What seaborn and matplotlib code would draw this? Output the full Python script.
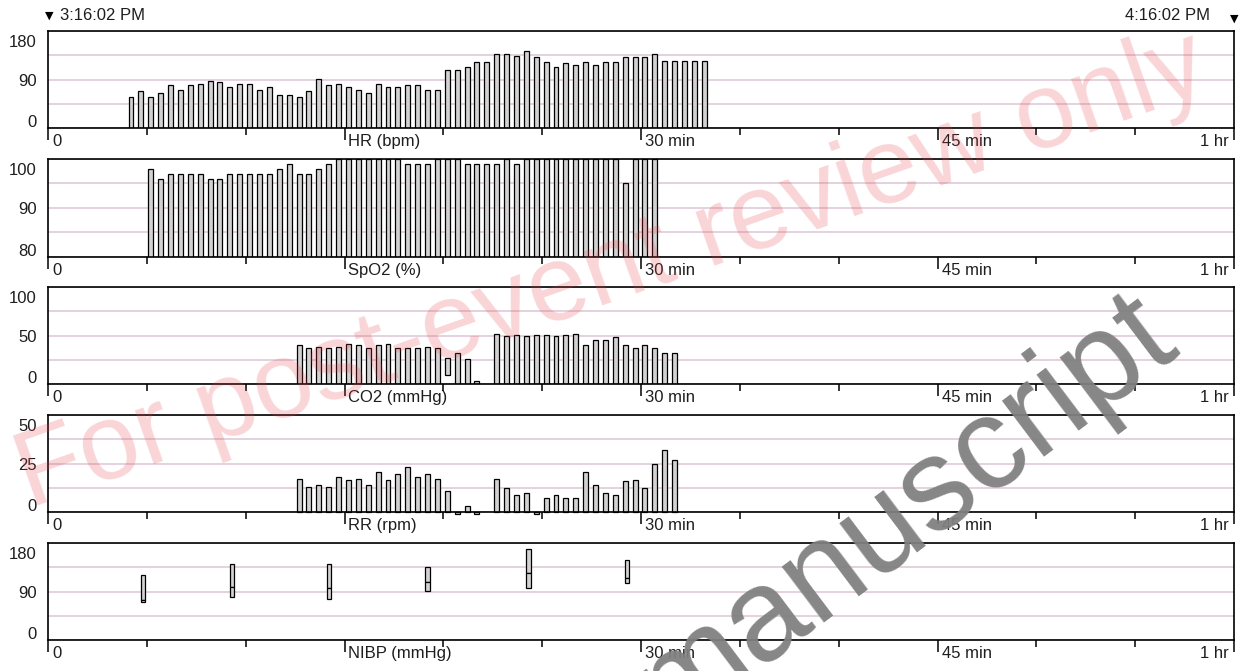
import numpy as np
import pandas as pd
import seaborn as sns
import matplotlib
matplotlib.use("Agg")
import matplotlib.pyplot as plt
from matplotlib import transforms

sns.set_theme(style="white")
plt.rcParams["font.family"] = ["Liberation Sans", "DejaVu Sans"]

START_LABEL = "3:16:02 PM"
END_LABEL = "4:16:02 PM"
X_MAJOR = [0, 15, 30, 45, 60]
X_MINOR = [5, 10, 20, 25, 35, 40, 50, 55]

# trend samples every 30 s, start given in minutes from 3:16:02 PM
HR_START = 4.2
HR = [57, 69, 57, 65, 79, 70, 79, 82, 88, 86,
      77, 82, 82, 71, 77, 62, 62, 57, 69, 91,
      80, 82, 77, 70, 65, 82, 77, 77, 80, 80,
      70, 70, 108, 108, 114, 122, 122, 137, 137, 134,
      142, 131, 122, 114, 120, 117, 122, 117, 122, 122,
      131, 131, 131, 137, 125, 125, 125, 125, 125]

SPO2_START = 5.2
SPO2 = [98, 96, 97, 97, 97, 97, 96, 96, 97, 97,
        97, 97, 97, 98, 99, 97, 97, 98, 99, 100,
        100, 100, 100, 100, 100, 100, 99, 99, 99, 100,
        100, 100, 99, 99, 99, 99, 100, 99, 100, 100,
        100, 100, 100, 100, 100, 100, 100, 100, 95, 100,
        100, 100]

CO2_START = 12.7
CO2 = [40, 37, 38, 37, 38, 41, 40, 37, 40, 41,
       37, 37, 37, 38, 37, 27, 32, 26, 3, np.nan,
       52, 49, 51, 49, 51, 51, 49, 51, 52, 40,
       45, 45, 48, 40, 37, 40, 37, 32, 32]
CO2_FLOOR = [0, 0, 0, 0, 0, 0, 0, 0, 0, 0,
             0, 0, 0, 0, 0, 9, 0, 0, 0, 0,
             0, 0, 0, 0, 0, 0, 0, 0, 0, 0,
             0, 0, 0, 0, 0, 0, 0, 0, 0]

RR_START = 12.7
RR = [17, 13, 14, 13, 18, 16.5, 17, 14, 20.5, 16.5,
      19.5, 23, 18, 19.5, 17, 11, -1, 3, -1, np.nan,
      17, 12.5, 9, 10, -1, 7, 9, 7, 7, 20.5,
      14, 10, 9, 16, 16.5, 12.5, 24.5, 32, 27]

NIBP_T = [4.8, 9.3, 14.2, 19.2, 24.3, 29.3]
NIBP_SYS = [121, 141, 141, 135, 169, 148]
NIBP_MAP = [75, 98, 96, 107, 124, 115]
NIBP_DIA = [70, 80, 76, 91, 97, 106]

FILL = "#d2d2d2"
GRID = "#dcc6d4"
TEXT = "#1e1e1e"

W, H = 1248, 671
fig = plt.figure(figsize=(W / 100, H / 100), dpi=100)

# panel frames in pixels: (top, bottom)
frames = [(31, 128), (159, 257), (287, 384), (415, 512), (543, 640)]
left, right = 48, 1234
axes = [fig.add_axes([left / W, 1 - b / H, (right - left) / W, (b - t) / H]) for t, b in frames]


def trend_frame(start, values):
    return pd.DataFrame({"t": start + 0.5 * np.arange(len(values)), "v": values})


def bars(ax, df):
    sns.barplot(data=df.dropna(), x="t", y="v", native_scale=True, width=0.5,
                color=FILL, saturation=1, edgecolor="black", linewidth=0.9,
                errorbar=None, ax=ax)


def style(ax, lo, hi, ylabels, name):
    ax.set_xlim(0, 60)
    ax.set_ylim(lo, hi)
    ax.set_xlabel("")
    ax.set_ylabel("")
    ax.set_axisbelow(True)
    grid = np.linspace(lo, hi, 5)
    ax.set_yticks(grid[1:4], minor=True)
    ax.set_yticks([lo, grid[2], hi], labels=ylabels)
    ax.yaxis.grid(True, which="both", color=GRID, lw=1.1)
    ax.xaxis.grid(False)
    ax.tick_params(axis="y", which="both", length=0, pad=8, labelsize=12, labelcolor=TEXT)
    ax.set_xticks(X_MAJOR, labels=["0", name, "30 min", "45 min", "1 hr"])
    ax.set_xticks(X_MINOR, minor=True)
    ax.tick_params(axis="x", which="major", direction="out", length=8.6, width=1.1,
                   color="black", pad=-4.3, labelsize=12, labelcolor=TEXT, bottom=True)
    ax.tick_params(axis="x", which="minor", direction="out", length=5, width=1.1,
                   color="black", bottom=True)
    for sp in ax.spines.values():
        sp.set_color("black")
        sp.set_linewidth(1.2)
    # y labels: top pushed inside, bottom lifted to sit on the baseline
    ylab = ax.get_yticklabels()
    ylab[0].set_va("baseline")
    ylab[0].set_transform(ylab[0].get_transform() +
                          transforms.ScaledTranslation(0, 0.01, fig.dpi_scale_trans))
    ylab[2].set_transform(ylab[2].get_transform() +
                          transforms.ScaledTranslation(0, -0.10, fig.dpi_scale_trans))
    xlab = ax.get_xticklabels()
    for i, lab in enumerate(xlab):
        if i < len(xlab) - 1:
            lab.set_ha("left")
            lab.set_transform(lab.get_transform() +
                              transforms.ScaledTranslation(0.04, 0, fig.dpi_scale_trans))
        else:
            lab.set_ha("right")
            lab.set_transform(lab.get_transform() +
                              transforms.ScaledTranslation(-0.05, 0, fig.dpi_scale_trans))


# HR
bars(axes[0], trend_frame(HR_START, HR))
style(axes[0], 0, 180, ["0", "90", "180"], "HR (bpm)")

# SpO2
bars(axes[1], trend_frame(SPO2_START, SPO2))
style(axes[1], 80, 100, ["80", "90", "100"], "SpO2 (%)")

# CO2, one sample drawn as a floating bar
co2 = trend_frame(CO2_START, CO2)
co2["floor"] = CO2_FLOOR
bars(axes[2], co2[co2["floor"] == 0][["t", "v"]])
fl = co2[co2["floor"] > 0]
axes[2].bar(fl["t"], fl["v"] - fl["floor"], bottom=fl["floor"], width=0.25,
            color=FILL, edgecolor="black", linewidth=0.9)
style(axes[2], 0, 100, ["0", "50", "100"], "CO2 (mmHg)")

# RR, the dropouts sit just under the baseline
bars(axes[3], trend_frame(RR_START, RR))
for p in axes[3].patches:
    p.set_clip_on(False)
style(axes[3], 0, 50, ["0", "25", "50"], "RR (rpm)")

# NIBP: upper box sys..map, lower box map..dia
nibp = pd.DataFrame({"t": NIBP_T, "sys": NIBP_SYS, "map": NIBP_MAP, "dia": NIBP_DIA})
axes[4].bar(nibp["t"], nibp["sys"] - nibp["map"], bottom=nibp["map"], width=0.22,
            color=FILL, edgecolor="black", linewidth=0.9)
axes[4].bar(nibp["t"], nibp["map"] - nibp["dia"], bottom=nibp["dia"], width=0.22,
            color=FILL, edgecolor="black", linewidth=0.9)
style(axes[4], 0, 180, ["0", "90", "180"], "NIBP (mmHg)")

# header
fig.text(49 / W, 1 - 16 / H, "\u25bc", fontsize=8, color="black", ha="center", va="center",
         family=["DejaVu Sans"])
fig.text(60 / W, 1 - 16 / H, START_LABEL, fontsize=12, color=TEXT, ha="left", va="center")
fig.text(1210 / W, 1 - 16 / H, END_LABEL, fontsize=12, color=TEXT, ha="right", va="center")
fig.text(1234 / W, 1 - 19 / H, "\u25bc", fontsize=8, color="black", ha="center", va="center",
         family=["DejaVu Sans"])

# watermarks
fig.text(612 / W, 1 - 272 / H, "For post-event review only", fontsize=77, rotation=19.5,
         rotation_mode="anchor", ha="center", va="center", color="#e8404c", alpha=0.22,
         zorder=0)
fig.text(905 / W, 1 - 512 / H, "manuscript", fontsize=94, rotation=37,
         rotation_mode="anchor", ha="center", va="center", color="#808080", alpha=0.95,
         zorder=10)

fig.savefig("out.png", dpi=100)
